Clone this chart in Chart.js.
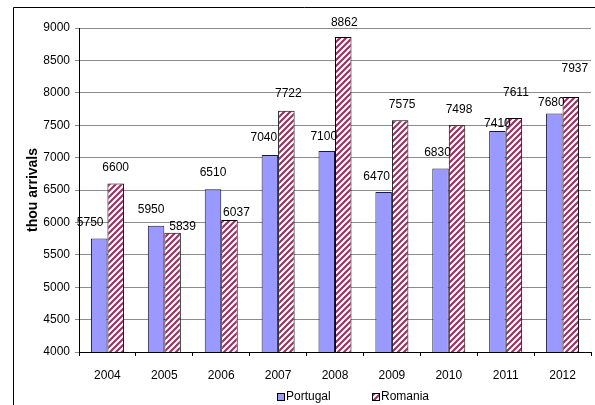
<!DOCTYPE html>
<html>
<head>
<meta charset="utf-8">
<script src="https://cdn.jsdelivr.net/npm/chart.js@4"></script>
<style>
  html, body { margin: 0; padding: 0; background: #fff; }
  #wrap { width: 595px; height: 405px; position: relative; }
</style>
</head>
<body>
<div id="wrap"><canvas id="arrivals"></canvas></div>
<script>
var years = ["2004", "2005", "2006", "2007", "2008", "2009", "2010", "2011", "2012"];
var portugal = [5750, 5950, 6510, 7040, 7100, 6470, 6830, 7410, 7680];
var romania = [6600, 5839, 6037, 7722, 8862, 7575, 7498, 7611, 7937];
var seriesNames = ["Portugal", "Romania"];
var yTitle = "thou arrivals";

var sans = "'Liberation Sans', Arial, sans-serif";

// hatch fill for Romania bars
function makeHatch() {
  var c = document.createElement('canvas');
  c.width = 6; c.height = 6;
  var g = c.getContext('2d');
  g.fillStyle = '#fff';
  g.fillRect(0, 0, 6, 6);
  g.strokeStyle = '#993366';
  g.lineWidth = 2.2;
  g.beginPath();
  g.moveTo(-1, 7); g.lineTo(7, -1);
  g.moveTo(-4, 4); g.lineTo(4, -4);
  g.moveTo(2, 10); g.lineTo(10, 2);
  g.stroke();
  return g.createPattern(c, 'repeat');
}
var hatch = makeHatch();

// label nudges [dx, dy] (Excel labels were dragged around a bit)
var nudges = [
  [[-9, 0], [-5, 0], [0, -1], [-6, -1], [-3, 2], [-7, 1], [-3, 0], [0, 9], [-3, 5]],
  [[0, 0], [10, 10], [7, 9], [2, -1], [1, 2], [2, 0], [2, 0], [2, -9], [4, -12]]
];

var valueLabels = {
  id: 'valueLabels',
  afterDatasetsDraw: function(chart) {
    var ctx = chart.ctx;
    ctx.save();
    ctx.font = "12px " + sans;
    ctx.fillStyle = '#000';
    ctx.textAlign = 'center';
    ctx.textBaseline = 'middle';
    chart.data.datasets.forEach(function(ds, i) {
      chart.getDatasetMeta(i).data.forEach(function(bar, j) {
        var n = nudges[i][j];
        ctx.fillText(ds.data[j], bar.x + n[0], bar.y - 16 + n[1]);
      });
    });
    ctx.restore();
  }
};

var frameAndLegend = {
  id: 'frameAndLegend',
  afterDraw: function(chart) {
    var ctx = chart.ctx;
    ctx.save();
    // outer frame, only left and top edges show
    ctx.strokeStyle = '#000';
    ctx.lineWidth = 1;
    ctx.beginPath();
    ctx.moveTo(13.5, 405);
    ctx.lineTo(13.5, 7.5);
    ctx.lineTo(595, 7.5);
    ctx.stroke();

    // legend
    var items = [
      { x: 277, fill: '#9999ff' },
      { x: 372, fill: hatch }
    ];
    ctx.font = "12px " + sans;
    ctx.textBaseline = 'middle';
    ctx.textAlign = 'left';
    items.forEach(function(it, i) {
      ctx.fillStyle = it.fill;
      ctx.fillRect(it.x, 393, 7, 7);
      ctx.strokeStyle = '#000';
      ctx.strokeRect(it.x + 0.5, 393.5, 7, 7);
      ctx.fillStyle = '#000';
      ctx.fillText(seriesNames[i], it.x + 9, 397);
    });
    ctx.restore();
  }
};

new Chart(document.getElementById('arrivals'), {
  type: 'bar',
  data: {
    labels: years,
    datasets: [{
      label: seriesNames[0],
      data: portugal,
      backgroundColor: '#9999ff',
      borderColor: '#1a1a40',
      borderWidth: 1,
      categoryPercentage: 0.58,
      barPercentage: 1
    }, {
      label: seriesNames[1],
      data: romania,
      backgroundColor: hatch,
      borderColor: '#000',
      borderWidth: 1,
      categoryPercentage: 0.58,
      barPercentage: 1
    }]
  },
  options: {
    responsive: true,
    maintainAspectRatio: false,
    animation: false,
    layout: { padding: { left: 14, right: 4, top: 28, bottom: 0 } },
    plugins: {
      legend: { display: false },
      tooltip: { enabled: false }
    },
    scales: {
      x: {
        grid: { drawOnChartArea: false, drawTicks: true, tickLength: 4, color: '#000', offset: true },
        border: { color: '#000' },
        ticks: { color: '#000', padding: 12, font: { family: sans, size: 12 } },
        afterFit: function(s) { s.height = 53; }
      },
      y: {
        min: 4000,
        max: 9000,
        ticks: {
          stepSize: 500,
          color: '#000',
          padding: 5,
          font: { family: sans, size: 12 },
          callback: function(v) { return String(v); }
        },
        grid: { color: '#8c8c8c', tickLength: 4 },
        border: { color: '#000' },
        title: {
          display: true,
          text: yTitle,
          color: '#000',
          padding: { top: 11, bottom: 0 },
          font: { family: sans, size: 14, weight: 'bold' }
        },
        afterFit: function(s) { s.width = 65; }
      }
    }
  },
  plugins: [valueLabels, frameAndLegend]
});
</script>
</body>
</html>
